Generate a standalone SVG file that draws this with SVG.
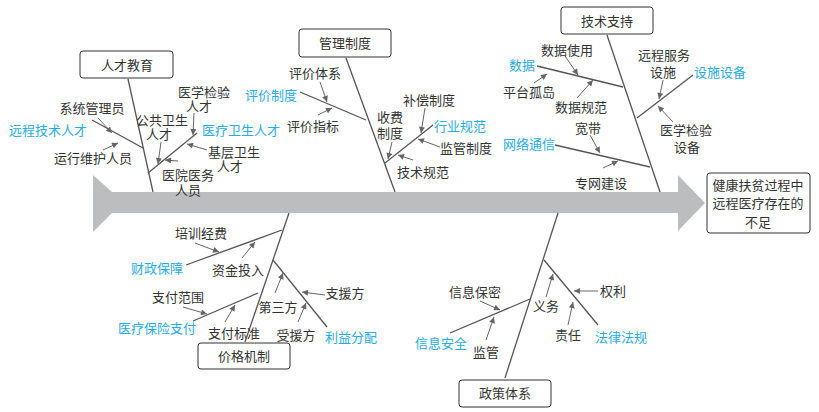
<svg xmlns="http://www.w3.org/2000/svg" width="819" height="412" viewBox="0 0 819 412">
<defs>
<marker id="ah" viewBox="0 0 10 10" refX="10" refY="5" markerWidth="8" markerHeight="6" markerUnits="userSpaceOnUse" orient="auto">
<path d="M0,0 L10,5 L0,10 z" fill="#666"/>
</marker>
</defs>
<style>
text{font-family:"Liberation Sans","Noto Sans CJK SC",sans-serif;font-size:13px;fill:#333;text-anchor:middle}
.b{fill:#29abe2}
.box{fill:#fff;stroke:#333;stroke-width:1}
.bone{stroke:#555;stroke-width:1.3;fill:none}
.arr{stroke:#666;stroke-width:1;fill:none;marker-end:url(#ah)}
</style>
<rect width="819" height="412" fill="#fff"/>
<polygon id="spine" points="93,175 112,192 678,192 678,175 705,203 678,231 678,213 112,213 93,232" fill="#bcbdbf"/>
<g id="connectors">
<line class="bone" x1="128" y1="79" x2="153" y2="192"/>
<line class="bone" x1="92" y1="120" x2="143" y2="148"/>
<line class="bone" x1="197" y1="133" x2="148" y2="173"/>
<line class="bone" x1="346" y1="58" x2="395" y2="192"/>
<line class="bone" x1="300" y1="92" x2="366" y2="120"/>
<line class="bone" x1="433" y1="125" x2="385" y2="163"/>
<line class="bone" x1="607" y1="35" x2="660" y2="192"/>
<line class="bone" x1="537" y1="66" x2="623" y2="87"/>
<line class="bone" x1="693" y1="75" x2="637" y2="118"/>
<line class="bone" x1="555" y1="145" x2="650" y2="167"/>
<line class="bone" x1="245" y1="342" x2="289" y2="213"/>
<line class="bone" x1="186" y1="265" x2="282" y2="230"/>
<line class="bone" x1="193" y1="321" x2="258" y2="293"/>
<line class="bone" x1="273" y1="260" x2="327" y2="327"/>
<line class="bone" x1="505" y1="378" x2="558" y2="213"/>
<line class="bone" x1="450" y1="333" x2="530" y2="299"/>
<line class="bone" x1="544" y1="260" x2="598" y2="325"/>
<line class="arr" x1="98" y1="118" x2="112" y2="133"/>
<line class="arr" x1="103" y1="150" x2="118" y2="143"/>
<line class="arr" x1="194" y1="113" x2="193" y2="135"/>
<line class="arr" x1="161" y1="142" x2="158" y2="164"/>
<line class="arr" x1="207" y1="150" x2="187" y2="144"/>
<line class="arr" x1="178" y1="161" x2="165" y2="160"/>
<line class="arr" x1="320" y1="82" x2="327" y2="102"/>
<line class="arr" x1="318" y1="115" x2="332" y2="108"/>
<line class="arr" x1="425" y1="108" x2="421" y2="133"/>
<line class="arr" x1="440" y1="147" x2="418" y2="139"/>
<line class="arr" x1="413" y1="160" x2="398" y2="155"/>
<line class="arr" x1="392" y1="142" x2="388" y2="159"/>
<line class="arr" x1="565" y1="56" x2="578" y2="75"/>
<line class="arr" x1="534" y1="83" x2="547" y2="74"/>
<line class="arr" x1="577" y1="98" x2="593" y2="80"/>
<line class="arr" x1="663" y1="80" x2="659" y2="99"/>
<line class="arr" x1="673" y1="122" x2="658" y2="106"/>
<line class="arr" x1="590" y1="135" x2="600" y2="153"/>
<line class="arr" x1="603" y1="168" x2="618" y2="161"/>
<line class="arr" x1="195" y1="243" x2="219" y2="252"/>
<line class="arr" x1="242" y1="258" x2="255" y2="242"/>
<line class="arr" x1="183" y1="307" x2="207" y2="314"/>
<line class="arr" x1="225" y1="322" x2="235" y2="305"/>
<line class="arr" x1="325" y1="295" x2="302" y2="292"/>
<line class="arr" x1="275" y1="293" x2="283" y2="273"/>
<line class="arr" x1="298" y1="322" x2="306" y2="303"/>
<line class="arr" x1="480" y1="301" x2="500" y2="310"/>
<line class="arr" x1="486" y1="340" x2="494" y2="317"/>
<line class="arr" x1="598" y1="291" x2="574" y2="291"/>
<line class="arr" x1="546" y1="297" x2="553" y2="274"/>
<line class="arr" x1="568" y1="325" x2="573" y2="302"/>
</g>
<g id="n-rencai">
<rect class="box" x="80" y="51" width="93" height="27" rx="3"/>
<text x="127" y="70">人才教育</text>
<text class="b" x="48" y="135">远程技术人才</text>
<text x="92" y="113">系统管理员</text>
<text x="93" y="163">运行维护人员</text>
<text x="204" y="97">医学检验<tspan x="199" dy="14">人才</tspan></text>
<text x="162" y="125">公共卫生<tspan x="159" dy="14">人才</tspan></text>
<text class="b" x="241" y="135">医疗卫生人才</text>
<text x="234" y="157">基层卫生<tspan x="230" dy="14">人才</tspan></text>
<text x="188" y="180">医院医务<tspan x="188" dy="15">人员</tspan></text>
</g>
<g id="n-guanli">
<rect class="box" x="299" y="29" width="92" height="28" rx="3"/>
<text x="345" y="48">管理制度</text>
<text x="315" y="78">评价体系</text>
<text class="b" x="271" y="100">评价制度</text>
<text x="313" y="131">评价指标</text>
<text x="429" y="105">补偿制度</text>
<text x="390" y="122">收费<tspan x="390" dy="16">制度</tspan></text>
<text class="b" x="460" y="131">行业规范</text>
<text x="466" y="153">监管制度</text>
<text x="423" y="177">技术规范</text>
</g>
<g id="n-jishu">
<rect class="box" x="561" y="7" width="92" height="27" rx="3"/>
<text x="607" y="26">技术支持</text>
<text x="567" y="55">数据使用</text>
<text class="b" x="522" y="70">数据</text>
<text x="529" y="97">平台孤岛</text>
<text x="581" y="112">数据规范</text>
<text x="664" y="60">远程服务<tspan x="663" dy="17">设施</tspan></text>
<text class="b" x="720" y="77">设施设备</text>
<text x="686" y="135">医学检验<tspan x="687" dy="17">设备</tspan></text>
<text x="588" y="133">宽带</text>
<text class="b" x="529" y="149">网络通信</text>
<text x="601" y="188">专网建设</text>
</g>
<g id="n-jiage">
<rect class="box" x="198" y="343" width="92" height="26" rx="3"/>
<text x="244" y="361">价格机制</text>
<text x="201" y="238">培训经费</text>
<text class="b" x="157" y="273">财政保障</text>
<text x="238" y="275">资金投入</text>
<text x="178" y="302">支付范围</text>
<text class="b" x="157" y="333">医疗保险支付</text>
<text x="234" y="338">支付标准</text>
<text x="278" y="312">第三方</text>
<text x="345" y="298">支援方</text>
<text x="296" y="340">受援方</text>
<text class="b" x="351" y="342">利益分配</text>
</g>
<g id="n-zhengce">
<rect class="box" x="459" y="380" width="92" height="27" rx="3"/>
<text x="505" y="398">政策体系</text>
<text x="475" y="297">信息保密</text>
<text class="b" x="441" y="348">信息安全</text>
<text x="486" y="357">监管</text>
<text x="546" y="311">义务</text>
<text x="613" y="296">权利</text>
<text x="568" y="340">责任</text>
<text class="b" x="621" y="342">法律法规</text>
</g>
<g id="n-result">
<rect class="box" x="707" y="173" width="103" height="60" rx="3"/>
<text x="758" y="190">健康扶贫过程中<tspan x="758" dy="18">远程医疗存在的</tspan><tspan x="758" dy="19">不足</tspan></text>
</g>
</svg>
